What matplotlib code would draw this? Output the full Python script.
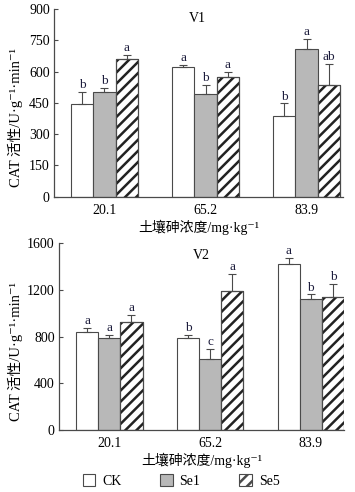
import numpy as np
import matplotlib
matplotlib.use("Agg")
import matplotlib.pyplot as plt
from matplotlib.patches import Patch

# data
groups = ["20.1", "65.2", "83.9"]
series = ["CK", "Se1", "Se5"]

v1_ck = [445, 621, 389]
v1_se1 = [504, 493, 708]
v1_se5 = [661, 574, 535]
v1_ck_err = [57, 9, 58]
v1_se1_err = [16, 42, 48]
v1_se5_err = [19, 26, 103]
v1_letters = [["b", "a", "b"], ["b", "b", "a"], ["a", "a", "ab"]]

v2_ck = [840, 789, 1423]
v2_se1 = [791, 606, 1120]
v2_se5 = [923, 1189, 1137]
v2_ck_err = [30, 28, 50]
v2_se1_err = [26, 85, 40]
v2_se5_err = [65, 148, 114]
v2_letters = [["a", "b", "a"], ["a", "c", "b"], ["a", "a", "b"]]

plt.rcParams['font.family'] = ['Liberation Serif', 'Noto Sans CJK SC', 'DejaVu Serif']
plt.rcParams['hatch.linewidth'] = 1.8

edge = '#4a4a4a'
letter_col = '#1c1c3c'
styles = [dict(facecolor='white', hatch=None),
          dict(facecolor='#b8b8b8', hatch=None),
          dict(facecolor='white', hatch='///')]

fig = plt.figure(figsize=(3.55, 4.92), dpi=100)
ax1 = fig.add_axes([0.152, 0.600, 0.814, 0.382])
ax2 = fig.add_axes([0.166, 0.126, 0.803, 0.380])

ylab = 'CAT 活性/U·g⁻¹·min⁻¹'
xlab = '土壤砷浓度/mg·kg⁻¹'


def draw(ax, vals, errs, letters, ymax, step, title, xr, tpos, off, lx):
    x = np.arange(len(groups))
    w = 0.22
    for i in range(3):
        xi = x + (i - 1) * w
        st = styles[i]
        ax.bar(xi, vals[i], w, facecolor=st['facecolor'], edgecolor=edge if st['hatch'] is None else '#222222',
               hatch=st['hatch'], linewidth=0.8, zorder=2)
        if st['hatch']:
            ax.bar(xi, vals[i], w, facecolor='none', edgecolor=edge, linewidth=0.8, zorder=3)
        ax.errorbar(xi, vals[i], yerr=[np.zeros(3), errs[i]], fmt='none', ecolor=edge,
                    elinewidth=0.8, capsize=3, capthick=0.8, zorder=4)
        for j in range(3):
            ax.text(xi[j], vals[i][j] + errs[i][j] + off, letters[i][j], ha='center', va='bottom',
                    fontsize=9.5, color=letter_col)
    ax.set_xlim(-0.5, xr)
    ax.set_ylim(0, ymax)
    ax.set_yticks(np.arange(0, ymax + 1, step))
    ax.set_xticks(x)
    ax.set_xticklabels(groups)
    for s in ['top', 'right']:
        ax.spines[s].set_visible(False)
    for s in ['left', 'bottom']:
        ax.spines[s].set_color(edge)
        ax.spines[s].set_linewidth(0.9)
    ax.tick_params(axis='y', direction='in', length=3, color=edge, labelsize=10, pad=3)
    ax.tick_params(axis='x', length=0, labelsize=10, pad=5)
    ax.set_ylabel(ylab, fontsize=10.5)
    ax.yaxis.set_label_coords(lx, 0.42)
    ax.set_xlabel(xlab, fontsize=10, labelpad=2)
    ax.text(tpos[0], tpos[1], title, transform=ax.transAxes, ha='center', va='center', fontsize=10)


draw(ax1, [v1_ck, v1_se1, v1_se5], [v1_ck_err, v1_se1_err, v1_se5_err], v1_letters,
     900, 150, 'V1', 2.36, (0.495, 0.947), 4, -0.107)
draw(ax2, [v2_ck, v2_se1, v2_se5], [v2_ck_err, v2_se1_err, v2_se5_err], v2_letters,
     1600, 400, 'V2', 2.33, (0.50, 0.936), 8, -0.126)

handles = [Patch(facecolor=styles[i]['facecolor'], hatch=styles[i]['hatch'], edgecolor=edge, linewidth=0.8)
           for i in range(3)]
fig.legend(handles, series, loc='center', bbox_to_anchor=(0.51, 0.022), ncol=3, frameon=False,
           fontsize=10, handlelength=0.9, handleheight=0.9, columnspacing=2.8, handletextpad=0.5)

fig.savefig('out.png', dpi=100)
